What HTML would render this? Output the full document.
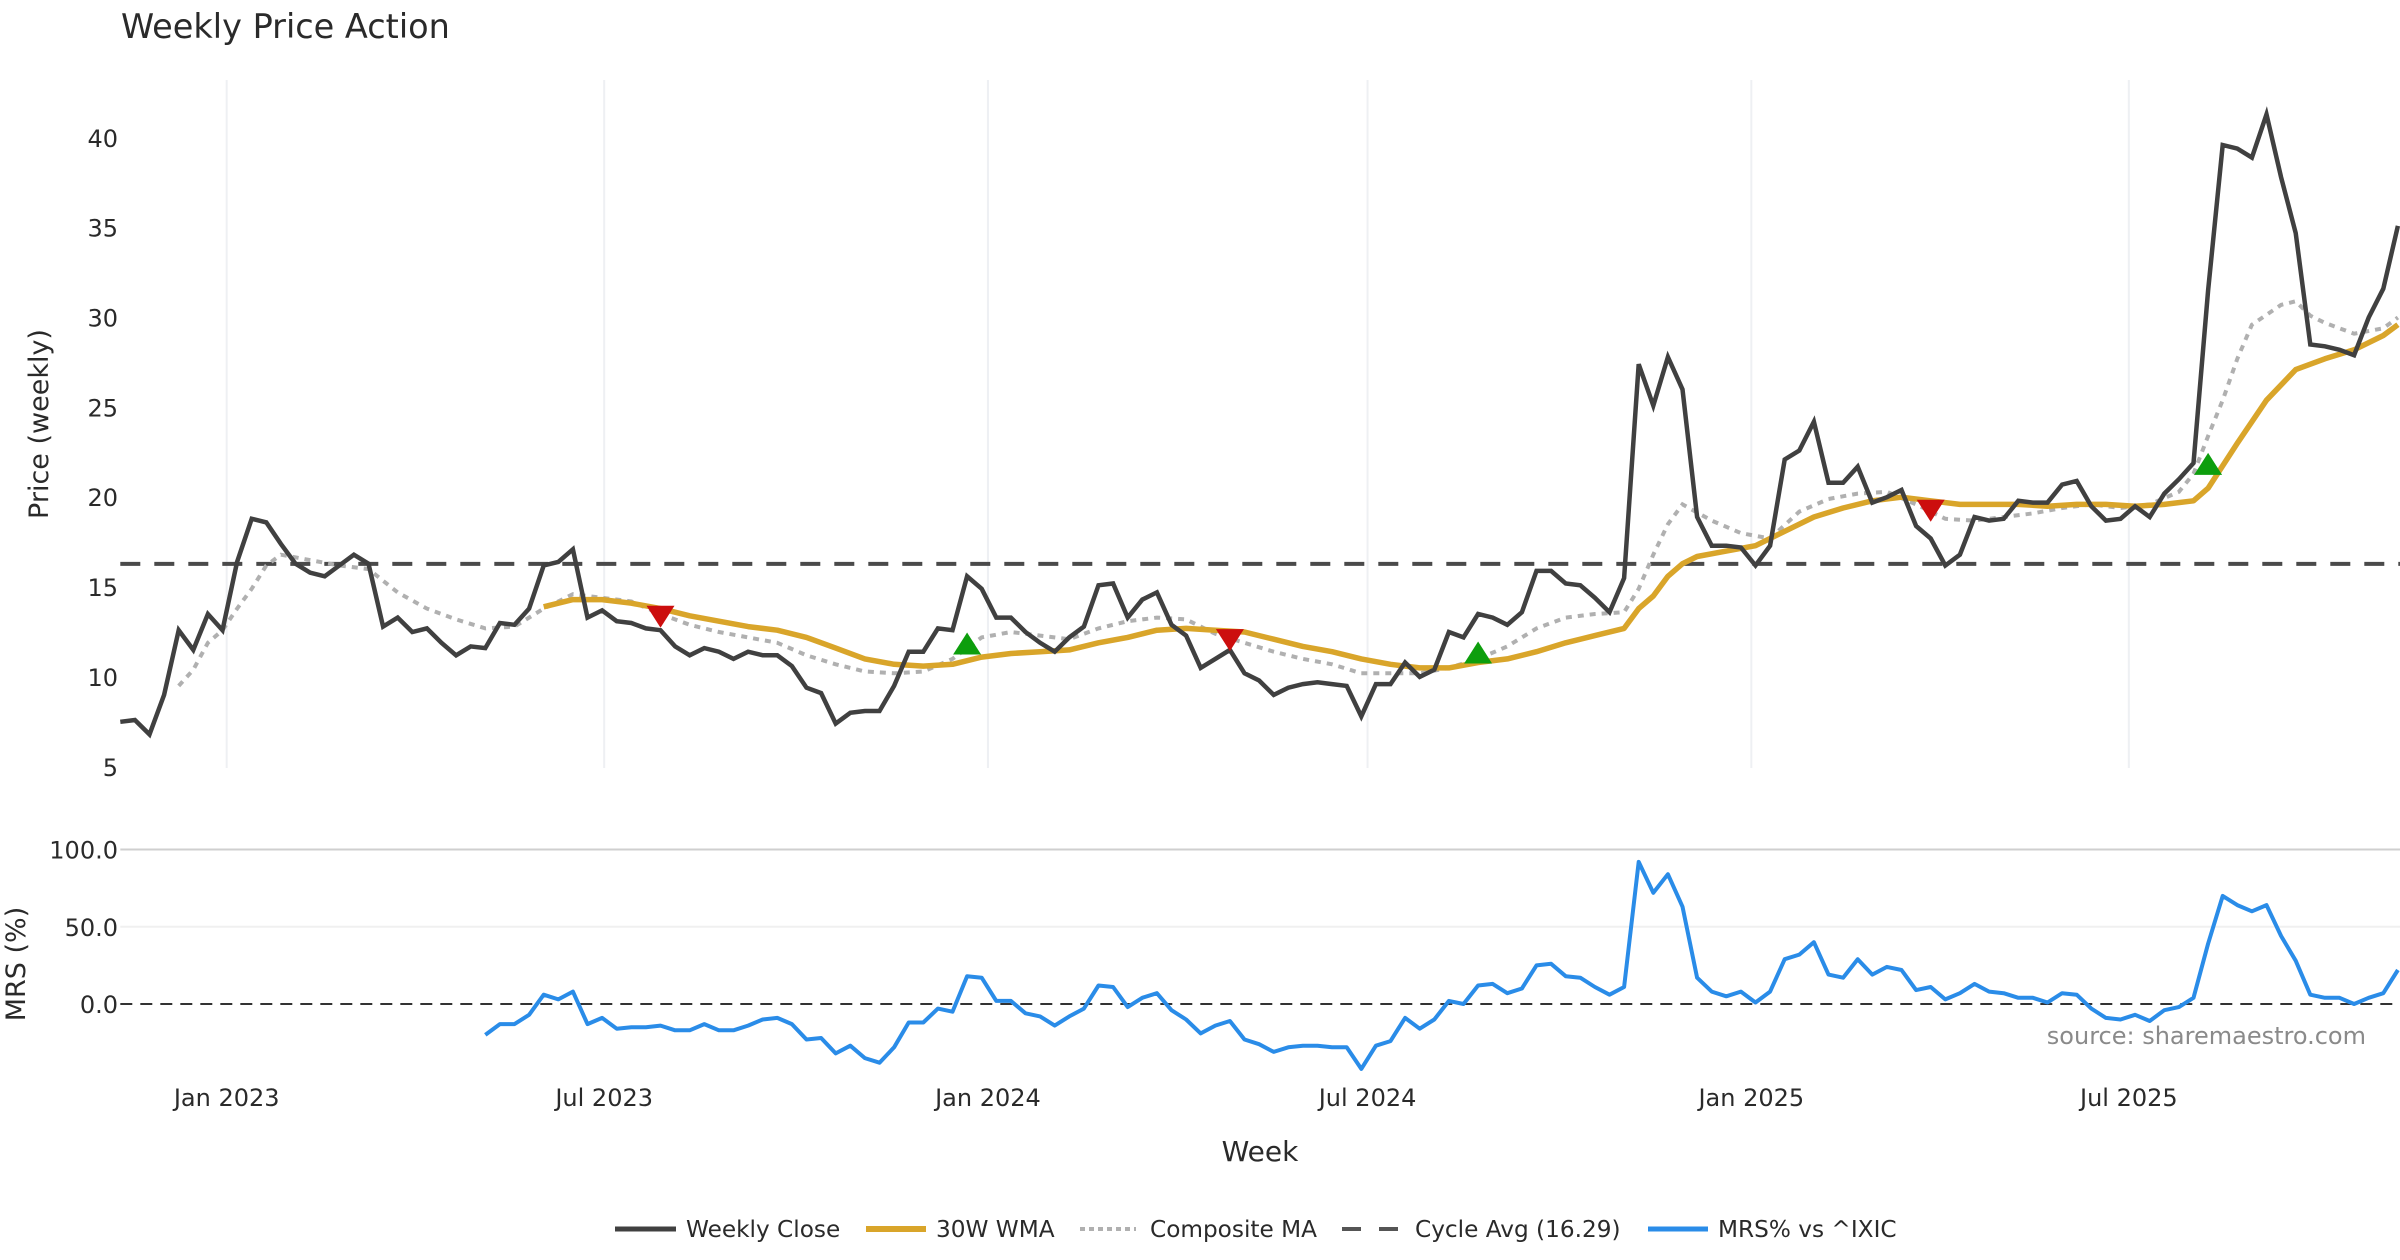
<!DOCTYPE html>
<html><head><meta charset="utf-8"><title>Weekly Price Action</title>
<style>
html,body{margin:0;padding:0;background:#fff;}
svg{display:block;font-family:"DejaVu Sans","Liberation Sans",sans-serif;}
</style></head>
<body>
<svg id="chart" xmlns="http://www.w3.org/2000/svg" width="2400" height="1260" viewBox="0 0 2400 1260">
<rect x="0" y="0" width="2400" height="1260" fill="#fff"/>
<text x="121" y="38" font-size="33.5" fill="#2a2a2a">Weekly Price Action</text>
<g id="grid"></g>
<g id="axes"></g>
<g id="series"></g>
<g id="markers"></g>
<text transform="translate(48,424) rotate(-90)" text-anchor="middle" font-size="27" fill="#2a2a2a">Price (weekly)</text>
<text transform="translate(25,964) rotate(-90)" text-anchor="middle" font-size="27" fill="#2a2a2a">MRS (%)</text>
<text x="1260" y="1161" text-anchor="middle" font-size="28" fill="#2a2a2a">Week</text>
<text x="2366" y="1044" text-anchor="end" font-size="24" fill="#8a8a8a">source: sharemaestro.com</text>
<g font-size="23.2" fill="#2a2a2a">
  <g>
    <line x1="615" y1="1229" x2="676" y2="1229" stroke="#404040" stroke-width="5"/>
    <text x="686" y="1237">Weekly Close</text>
  </g>
  <g>
    <line x1="866" y1="1229" x2="926" y2="1229" stroke="#d9a52a" stroke-width="6"/>
    <text x="936" y="1237">30W WMA</text>
  </g>
  <g>
    <line x1="1080" y1="1229" x2="1136" y2="1229" stroke="#b0b0b0" stroke-width="4" stroke-dasharray="5,4"/>
    <text x="1150" y="1237">Composite MA</text>
  </g>
  <g>
    <line x1="1342" y1="1229" x2="1398" y2="1229" stroke="#555" stroke-width="4" stroke-dasharray="19,18"/>
    <text x="1415" y="1237">Cycle Avg (16.29)</text>
  </g>
  <g>
    <line x1="1648" y1="1229" x2="1708" y2="1229" stroke="#2a8ce8" stroke-width="5"/>
    <text x="1718" y="1237">MRS% vs ^IXIC</text>
  </g>
</g>
</svg>
<script>
const startDate = "2022-11-11";
const closes = [7.5,7.6,6.8,9.0,12.6,11.5,13.5,12.6,16.4,18.8,18.6,17.4,16.3,15.8,15.6,16.2,16.8,16.3,12.8,13.3,12.5,12.7,11.9,11.2,11.7,11.6,13.0,12.9,13.8,16.2,16.4,17.1,13.3,13.7,13.1,13.0,12.7,12.6,11.7,11.2,11.6,11.4,11.0,11.4,11.2,11.2,10.6,9.4,9.1,7.4,8.0,8.1,8.1,9.5,11.4,11.4,12.7,12.6,15.6,14.9,13.3,13.3,12.5,11.9,11.4,12.2,12.8,15.1,15.2,13.3,14.3,14.7,12.9,12.3,10.5,11.0,11.5,10.2,9.8,9.0,9.4,9.6,9.7,9.6,9.5,7.8,9.6,9.6,10.8,10.0,10.4,12.5,12.2,13.5,13.3,12.9,13.6,15.9,15.9,15.2,15.1,14.4,13.6,15.5,27.4,25.1,27.8,26.0,18.9,17.3,17.3,17.2,16.2,17.3,22.1,22.6,24.2,20.8,20.8,21.7,19.7,20.0,20.4,18.4,17.7,16.2,16.8,18.9,18.7,18.8,19.8,19.7,19.7,20.7,20.9,19.5,18.7,18.8,19.5,18.9,20.2,21.0,21.9,31.5,39.6,39.4,38.9,41.3,37.8,34.7,28.5,28.4,28.2,27.9,30.0,31.6,35.1];
const wmaWeeks = [29,31,33,35,37,39,41,43,45,47,49,51,53,55,57,59,61,63,65,67,69,71,73,75,77,79,81,83,85,87,89,91,93,95,97,99,101,103,104,105,106,107,108,110,112,114,116,118,120,122,124,126,128,130,132,134,136,138,140,142,143,145,147,149,151,153,155,156];
const wmaValues = [13.9,14.3,14.3,14.1,13.8,13.4,13.1,12.8,12.6,12.2,11.6,11.0,10.7,10.6,10.7,11.1,11.3,11.4,11.5,11.9,12.2,12.6,12.7,12.6,12.5,12.1,11.7,11.4,11.0,10.7,10.5,10.5,10.8,11.0,11.4,11.9,12.3,12.7,13.8,14.5,15.6,16.3,16.7,17.0,17.3,18.1,18.9,19.4,19.8,20.0,19.8,19.6,19.6,19.6,19.5,19.6,19.6,19.5,19.6,19.8,20.5,23.0,25.4,27.1,27.7,28.2,29.0,29.6];
const compWeeks = [4,5,6,7,8,9,10,11,13,15,17,19,21,23,25,27,29,31,33,35,37,39,41,43,45,47,49,51,53,55,57,59,61,63,65,67,69,71,73,75,77,79,81,83,85,87,89,91,93,95,97,99,101,103,104,105,106,107,109,111,113,115,117,119,121,123,125,127,129,131,133,135,137,139,141,142,143,144,145,146,148,149,150,151,153,155,156];
const compValues = [9.5,10.4,11.9,12.6,13.8,14.9,16.2,16.8,16.5,16.2,16.0,14.7,13.8,13.2,12.7,12.8,13.8,14.6,14.4,14.2,13.5,12.9,12.5,12.2,11.9,11.2,10.7,10.3,10.2,10.3,11.0,12.2,12.5,12.3,12.1,12.7,13.1,13.3,13.2,12.4,11.9,11.4,11.0,10.7,10.2,10.2,10.2,10.5,11.0,11.7,12.7,13.3,13.5,13.6,14.9,16.8,18.5,19.6,18.7,18.0,17.7,19.2,19.9,20.2,20.3,19.6,18.8,18.7,18.9,19.1,19.4,19.6,19.4,19.6,20.3,21.3,23.4,25.4,27.7,29.6,30.7,30.9,30.1,29.7,29.1,29.4,30.0];
const cycleAvg = 16.29;
const mrsStart = 25;
const mrsValues = [-20,-13,-13,-7,6,3,8,-13,-9,-16,-15,-15,-14,-17,-17,-13,-17,-17,-14,-10,-9,-13,-23,-22,-32,-27,-35,-38,-28,-12,-12,-3,-5,18,17,2,2,-6,-8,-14,-8,-3,12,11,-2,4,7,-4,-10,-19,-14,-11,-23,-26,-31,-28,-27,-27,-28,-28,-42,-27,-24,-9,-16,-10,2,0,12,13,7,10,25,26,18,17,11,6,11,92,72,84,63,17,8,5,8,1,8,29,32,40,19,17,29,19,24,22,9,11,3,7,13,8,7,4,4,1,7,6,-3,-9,-10,-7,-11,-4,-2,4,39,70,64,60,64,44,28,6,4,4,0,4,7,22];
const sellWeeks = [37,76,124];
const sellValues = [13.4,12.1,19.3];
const buyWeeks = [58,93,143];
const buyValues = [11.8,11.3,21.8];
const priceTicks = [5,10,15,20,25,30,35,40];
const mrsTicks = [0,50,100];
const xTickDates = ["2023-01-01","2023-07-01","2024-01-01","2024-07-01","2025-01-01","2025-07-01"];
const xTickLabels = ["Jan 2023","Jul 2023","Jan 2024","Jul 2024","Jan 2025","Jul 2025"];

const NS = "http://www.w3.org/2000/svg";
const X0 = 120.3, STEP = 14.60, XR = 2400;
function xW(w){ return X0 + w*STEP; }
function xDate(d){ return xW((new Date(d+"T00:00:00Z") - new Date(startDate+"T00:00:00Z"))/(7*864e5)); }
function yP(v){ return 137.8 + (40 - v)*17.97; }
function yM(v){ return 1004 - v*1.545; }
function mk(tag, attrs, parent){ const e=document.createElementNS(NS,tag); for(const k in attrs) e.setAttribute(k,attrs[k]); parent.appendChild(e); return e; }
const grid=document.getElementById('grid'), axes=document.getElementById('axes'), series=document.getElementById('series'), markers=document.getElementById('markers');

xTickDates.forEach((d,i)=>{
  const x=xDate(d);
  const g=mk('line',{x1:x,x2:x,y1:80,y2:768,stroke:'#eef0f3','stroke-width':2},grid);
  
  
  const t=mk('text',{x:x,y:1106,'text-anchor':'middle','font-size':24,fill:'#2a2a2a'},axes);
  t.textContent=xTickLabels[i];
  
  
});
priceTicks.forEach(v=>{
  const t=mk('text',{x:118,y:yP(v)+9,'text-anchor':'end','font-size':24,fill:'#2a2a2a'},axes);
  t.textContent=v;
  
  
});
mrsTicks.forEach(v=>{
  if(v===100){
    const l=mk('line',{x1:X0,x2:XR,y1:yM(v),y2:yM(v),stroke:'#cfcfcf','stroke-width':2},grid);
    
    
  } else if(v===50){
    const l=mk('line',{x1:X0,x2:XR,y1:yM(v),y2:yM(v),stroke:'#f0f0f0','stroke-width':2},grid);
    
    
  }
  const t=mk('text',{x:118,y:yM(v)+9,'text-anchor':'end','font-size':24,fill:'#2a2a2a'},axes);
  t.textContent=v.toFixed(1);
  
  
});
const zl=mk('line',{x1:X0,x2:XR,y1:yM(0),y2:yM(0),stroke:'#333','stroke-width':2,'stroke-dasharray':'12,8'},series);


const cl=mk('line',{x1:X0,x2:XR,y1:yP(cycleAvg),y2:yP(cycleAvg),stroke:'#4a4a4a','stroke-width':4,'stroke-dasharray':'20,14'},series);



function path(pts){ return pts.map((p,i)=>(i?'L':'M')+p[0].toFixed(1)+' '+p[1].toFixed(1)).join(' '); }
const comp=mk('path',{d:path(compWeeks.map((w,i)=>[xW(w),yP(compValues[i])])),fill:'none',stroke:'#b0b0b0','stroke-width':4,'stroke-dasharray':'6,6'},series);


const wma=mk('path',{d:path(wmaWeeks.map((w,i)=>[xW(w),yP(wmaValues[i])])),fill:'none',stroke:'#d9a52a','stroke-width':5.5,'stroke-linejoin':'round'},series);


const cls=mk('path',{d:path(closes.map((v,i)=>[xW(i),yP(v)])),fill:'none',stroke:'#404040','stroke-width':4.5,'stroke-linejoin':'miter'},series);


const mrs=mk('path',{d:path(mrsValues.map((v,i)=>[xW(mrsStart+i),yM(v)])),fill:'none',stroke:'#2a8ce8','stroke-width':4,'stroke-linejoin':'round'},series);



sellWeeks.forEach((w,i)=>{
  const x=xW(w), y=yP(sellValues[i]);
  const t=mk('polygon',{points:`${x-14},${y-10} ${x+14},${y-10} ${x},${y+12}`,fill:'#cc0e0e'},markers);
  
  
});
buyWeeks.forEach((w,i)=>{
  const x=xW(w), y=yP(buyValues[i]);
  const t=mk('polygon',{points:`${x-14},${y+10} ${x+14},${y+10} ${x},${y-12}`,fill:'#0d9e0d'},markers);
  
  
});
</script>
</body></html>
